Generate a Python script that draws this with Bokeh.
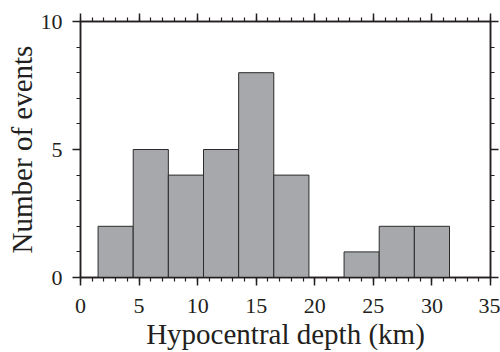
from bokeh.plotting import figure
from bokeh.models import Range1d, LinearAxis, SingleIntervalTicker, ColumnDataSource
from bokeh.embed import file_html
from bokeh.resources import INLINE

# Histogram data: depth bins (km) and number of events
bin_left = [1.5, 4.5, 7.5, 10.5, 13.5, 16.5, 19.5, 22.5, 25.5, 28.5]
bin_right = [4.5, 7.5, 10.5, 13.5, 16.5, 19.5, 22.5, 25.5, 28.5, 31.5]
counts = [2, 5, 4, 5, 8, 4, 0, 1, 2, 2]

FONT = "Liberation Serif"

p = figure(width=500, height=352, output_backend="svg", toolbar_location=None,
           x_range=Range1d(0, 35), y_range=Range1d(0, 10),
           x_axis_type=None, y_axis_type=None,
           min_border_left=80, min_border_right=10, min_border_top=21, min_border_bottom=75)
p.background_fill_color = "white"
p.border_fill_color = "white"
p.outline_line_color = "#231f20"
p.outline_line_width = 1.5
p.xgrid.visible = False
p.ygrid.visible = False

src = ColumnDataSource(dict(left=[l for l, c in zip(bin_left, counts) if c > 0],
                            right=[r for r, c in zip(bin_right, counts) if c > 0],
                            top=[c for c in counts if c > 0]))
p.quad(left="left", right="right", bottom=0, top="top", source=src,
       fill_color="#a7a8ab", line_color="#2b2b2b", line_width=1)

def style(ax, labels=True):
    ax.axis_line_color = "#231f20"
    ax.axis_line_width = 1.5
    ax.major_tick_line_color = "#231f20"
    ax.minor_tick_line_color = "#231f20"
    ax.major_tick_line_width = 1.5
    ax.minor_tick_line_width = 1.2
    ax.major_tick_out = 8
    ax.major_tick_in = 0
    ax.minor_tick_out = 4
    ax.minor_tick_in = 0
    ax.major_label_text_font = FONT
    ax.major_label_text_font_size = "22px"
    ax.major_label_text_color = "#231f20"
    ax.axis_label_text_font = FONT
    ax.axis_label_text_font_size = "29px"
    ax.axis_label_text_font_style = "normal"
    ax.axis_label_text_color = "#231f20"
    if not labels:
        ax.major_label_text_font_size = "0px"
        ax.major_label_text_color = None

xb = LinearAxis(ticker=SingleIntervalTicker(interval=5, num_minor_ticks=5),
                axis_label="Hypocentral depth (km)")
style(xb)
xb.major_label_standoff = 13
xb.axis_label_standoff = 2
p.add_layout(xb, "below")

yl = LinearAxis(ticker=SingleIntervalTicker(interval=5, num_minor_ticks=5),
                axis_label="Number of events")
style(yl)
yl.major_label_standoff = 10
yl.axis_label_standoff = 0
p.add_layout(yl, "left")

xt = LinearAxis(ticker=SingleIntervalTicker(interval=5, num_minor_ticks=5))
style(xt, labels=False)
p.add_layout(xt, "above")

yr = LinearAxis(ticker=SingleIntervalTicker(interval=5, num_minor_ticks=5))
style(yr, labels=False)
p.add_layout(yr, "right")

open("out.html", "w").write(file_html(p, INLINE))
